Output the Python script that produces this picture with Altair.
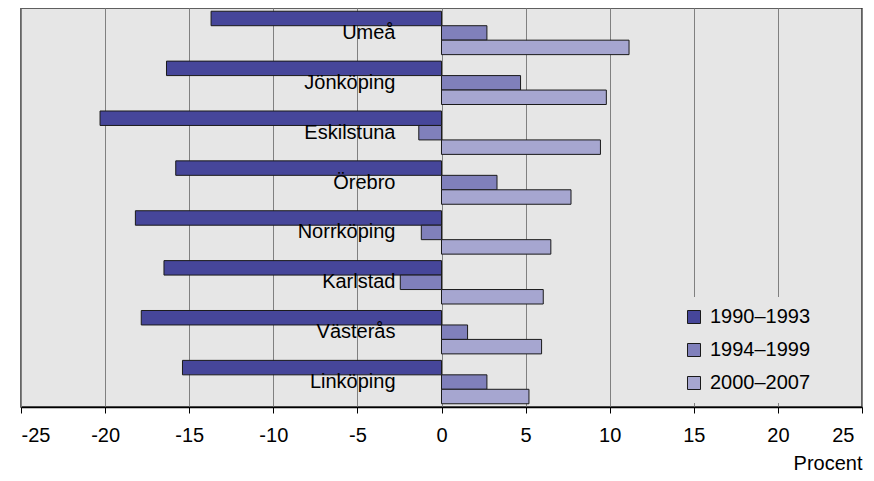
import altair as alt
import pandas as pd

cities = ["Umeå", "Jönköping", "Eskilstuna", "Örebro", "Norrköping", "Karlstad", "Västerås", "Linköping"]
periods = ["1990–1993", "1994–1999", "2000–2007"]
v1990 = [-13.7, -16.35, -20.3, -15.8, -18.2, -16.5, -17.85, -15.4]
v1994 = [2.7, 4.7, -1.35, 3.3, -1.2, -2.45, 1.55, 2.7]
v2000 = [11.15, 9.8, 9.45, 7.7, 6.5, 6.05, 5.95, 5.2]
colors = ["#46469a", "#8080bb", "#a6a6d0"]
x_ticks = [-25, -20, -15, -10, -5, 0, 5, 10, 15, 20, 25]

rows = []
for period, vals in zip(periods, [v1990, v1994, v2000]):
    for c, v in zip(cities, vals):
        rows.append({"Stad": c, "Period": period, "Procent": v})
df = pd.DataFrame(rows)

FONT = "Liberation Sans"

chart = alt.Chart(df).mark_bar(stroke="#1a1a1a", strokeWidth=1).encode(
    x=alt.X(
        "Procent:Q",
        scale=alt.Scale(domain=[-25, 25], nice=False, zero=False),
        axis=alt.Axis(
            values=x_ticks,
            labelExpr="replace(datum.label, '−', '-')",
            labelOffset={"condition": {"test": "datum.value === 25", "value": -8}, "value": 0},
            title="Procent",
            grid=True,
            gridColor="#808080",
            gridWidth=1,
            domainColor="#000000",
            domainWidth=1.5,
            tickColor="#000000",
            tickSize=6,
            labelFontSize=20,
            labelFont=FONT,
            labelColor="#000000",
            labelPadding=12,
            titleFontSize=20,
            titleFont=FONT,
            titleFontWeight="normal",
            titleColor="#000000",
            titleAnchor="end",
            titleAlign="right",
            titlePadding=8,
        ),
    ),
    y=alt.Y(
        "Stad:N",
        sort=cities,
        scale=alt.Scale(paddingInner=0.13, paddingOuter=0.065),
        axis=alt.Axis(
            title=None,
            domain=False,
            ticks=False,
            grid=False,
            offset=-374,
            labelPadding=0,
            labelFontSize=20,
            labelFont=FONT,
            labelColor="#000000",
            zindex=1,
        ),
    ),
    yOffset=alt.YOffset("Period:N", sort=periods),
    color=alt.Color(
        "Period:N",
        sort=periods,
        scale=alt.Scale(domain=periods, range=colors),
        legend=alt.Legend(
            title=None,
            orient="none",
            legendX=653,
            legendY=289,
            fillColor="#e6e6e6",
            padding=10,
            symbolType="square",
            symbolSize=169,
            symbolStrokeColor="#1a1a1a",
            symbolStrokeWidth=1,
            symbolOpacity=1,
            labelFontSize=20,
            labelFont=FONT,
            labelColor="#000000",
            labelOffset=6,
            rowPadding=13,
        ),
    ),
).properties(
    width=841,
    height=399,
    padding={"left": 13, "top": 0, "right": 4, "bottom": 65},
    autosize=alt.AutoSizeParams(type="none"),
).configure(
    background="#ffffff", font=FONT
).configure_view(
    fill="#e6e6e6",
    stroke="#333333",
    strokeWidth=1.5,
)

chart.save("out.html", embed_options={"renderer": "svg", "actions": False})
